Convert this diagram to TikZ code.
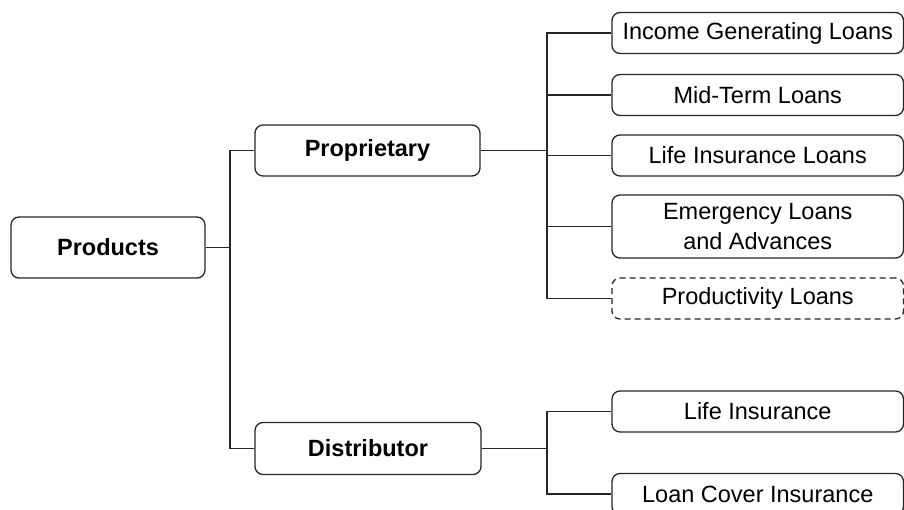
\documentclass[tikz,border=0pt]{standalone}
\usepackage{fontspec}
\setmainfont{Liberation Sans}
\begin{document}
\begin{tikzpicture}[x=1pt,y=-1pt,
  box/.style={draw=black!85, line width=1.3pt, rounded corners=8pt, fill=white,
    inner sep=0pt, align=center, font=\fontsize{23.5}{30}\selectfont},
  bold/.style={box, font=\fontsize{23.5}{30}\selectfont\bfseries},
  leaf/.style={box, minimum width=291.5pt, minimum height=41pt},
  dashbox/.style={leaf, dash pattern=on 6pt off 4pt},
  conn/.style={draw=black!85, line width=1.3pt}]
\useasboundingbox (0,0) rectangle (904,510);
\node[bold, minimum width=194pt, minimum height=61pt] (prod) at (108,247.5) {Products};
\node[bold, minimum width=225pt, minimum height=51pt] (prop) at (367.5,150.5) {Proprietary};
\node[bold, minimum width=226pt, minimum height=52pt] (dist) at (368,448.5) {Distributor};
\node[leaf] (c1) at (757.75,33) {Income Generating Loans};
\node[leaf] (c2) at (757.75,95) {Mid-Term Loans};
\node[leaf] (c3) at (757.75,155.5) {Life Insurance Loans};
\node[leaf, minimum height=63pt] (c4) at (757.75,226.5) {Emergency Loans\\and Advances};
\node[dashbox] (c5) at (757.75,298.5) {Productivity Loans};
\node[leaf] (d1) at (757.75,411.5) {Life Insurance};
\node[leaf] (d2) at (757.75,494) {Loan Cover Insurance};
\coordinate (j1) at (230,247.5);
\coordinate (j2) at (547,150.5);
\coordinate (j3) at (547,448.5);
\draw[conn] (prod.east) -- (j1);
\draw[conn] (prop.west) -| (j1) |- (dist.west);
\draw[conn] (prop.east) -- (j2);
\draw[conn] (c1.west) -| (j2) |- (c5.west);
\draw[conn] (c2.west) -- (c2.west -| j2);
\draw[conn] (c3.west) -- (c3.west -| j2);
\draw[conn] (c4.west) -- (c4.west -| j2);
\draw[conn] (dist.east) -- (j3);
\draw[conn] (d1.west) -| (j3) |- (d2.west);
\end{tikzpicture}
\end{document}
